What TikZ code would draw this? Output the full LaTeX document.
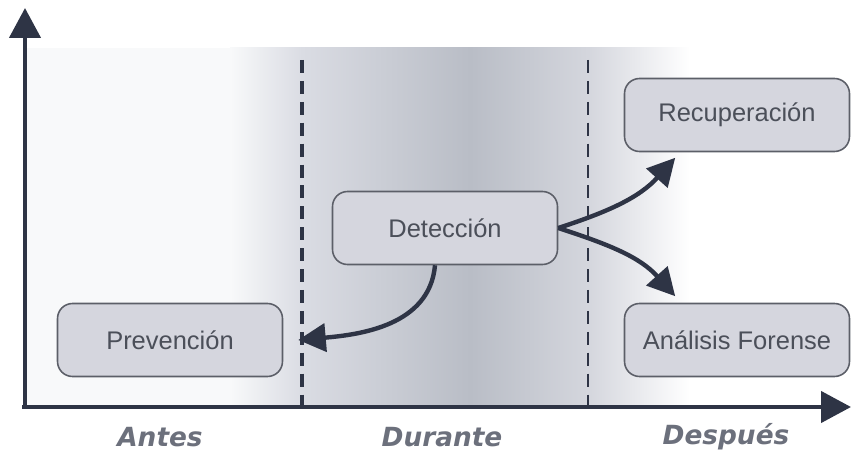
\documentclass[tikz,border=0pt]{standalone}
\usepackage{xcolor}
\usepackage{fontspec}
\setmainfont{Liberation Sans}
\newfontfamily\erafont{DejaVu Sans}
\usepackage{tikz}
\usetikzlibrary{calc}
\usetikzlibrary{arrows.meta}
\usetikzlibrary{shapes}

\definecolor{axiscol}{HTML}{2E3445}
\definecolor{boxfill}{HTML}{D5D6DE}
\definecolor{boxdraw}{HTML}{5C5F68}
\definecolor{textcol}{HTML}{4B4F59}
\definecolor{labelcol}{HTML}{6C707C}
\definecolor{shadecol}{HTML}{B9BDC6}
\definecolor{shadeleft}{HTML}{DADCE3}
\definecolor{shaderight}{HTML}{D4D6DD}
\definecolor{leftbg}{HTML}{F8F9FA}

\begin{document}
\begin{tikzpicture}[x=0.02cm, y=0.02cm,
    phase/.style={draw=boxdraw, line width=0.9pt, fill=boxfill, rounded corners=0.3cm,
      minimum width=4.5cm, minimum height=1.46cm, text=textcol,
      font=\fontsize{14.5}{16}\selectfont},
    era/.style={text=labelcol, font=\erafont\fontsize{15}{18}\selectfont\bfseries\itshape},
    flow/.style={draw=axiscol, line width=2.5pt, -{Triangle[length=0.55cm, width=0.56cm]}},
    axis/.style={draw=axiscol, line width=2.5pt, -{Triangle[length=0.6cm, width=0.62cm]}},
    durline/.style={draw=axiscol, dash pattern=on 7.4pt off 4.5pt}]
  \useasboundingbox (0,0) rectangle (852,453);

  % Limits
  \newcommand\durStartX{302}     % = start of Durante
  \newcommand\durStopX{588}      % = end of Durante

  % Background
  \fill[leftbg] (25,48) rectangle (230,405);
  \shade[left color=leftbg, right color=shadeleft] (230,48) rectangle (\durStartX,405);
  \shade[left color=shadeleft, right color=shadecol] (\durStartX,48) rectangle (470,405);
  \shade[left color=shadecol, right color=shaderight] (470,48) rectangle (\durStopX,405);
  \shade[left color=shaderight, right color=white] (\durStopX,48) rectangle (690,405);
  \draw[durline, line width=1.9pt] (\durStartX,393) -- (\durStartX,48);
  \draw[durline, line width=1.2pt] (\durStopX,393) -- (\durStopX,48);

  % Axes
  \coordinate (origin) at (22,46);
  \coordinate (ytip) at (25,445);
  \coordinate (xtip) at (851,46);
  \draw[axis] (origin -| ytip) -- (ytip);
  \draw[axis] (origin) -- (xtip);

  % Phases
  \node[phase] (prev) at (170,113) {Prevención};
  \node[phase] (det)  at (445,225) {Detección};
  \node[phase] (rec)  at (737,338) {Recuperación};
  \node[phase] (fore) at (737,113) {Análisis Forense};

  \coordinate (prevtip) at ($(prev.east)+(0.3cm,0)$);
  \coordinate (rectip)  at ($(rec.south west)+(1.03cm,-0.11cm)$);
  \coordinate (foretip) at ($(fore.north west)+(1.03cm,0.13cm)$);

  \draw[flow] ([xshift=-0.2cm]det.south) to[out=-95, in=5] (prevtip);
  \draw[flow] (det.east) to[out=18, in=228] (rectip);
  \draw[flow] (det.east) to[out=-18, in=132] (foretip);

  % Names
  \node[era] (antes)   at (160,16) {Antes};
  \node[era] (durante) at (442,16) {Durante};
  \node[era] (despues) at (726,16) {Después};
\end{tikzpicture}
\end{document}
